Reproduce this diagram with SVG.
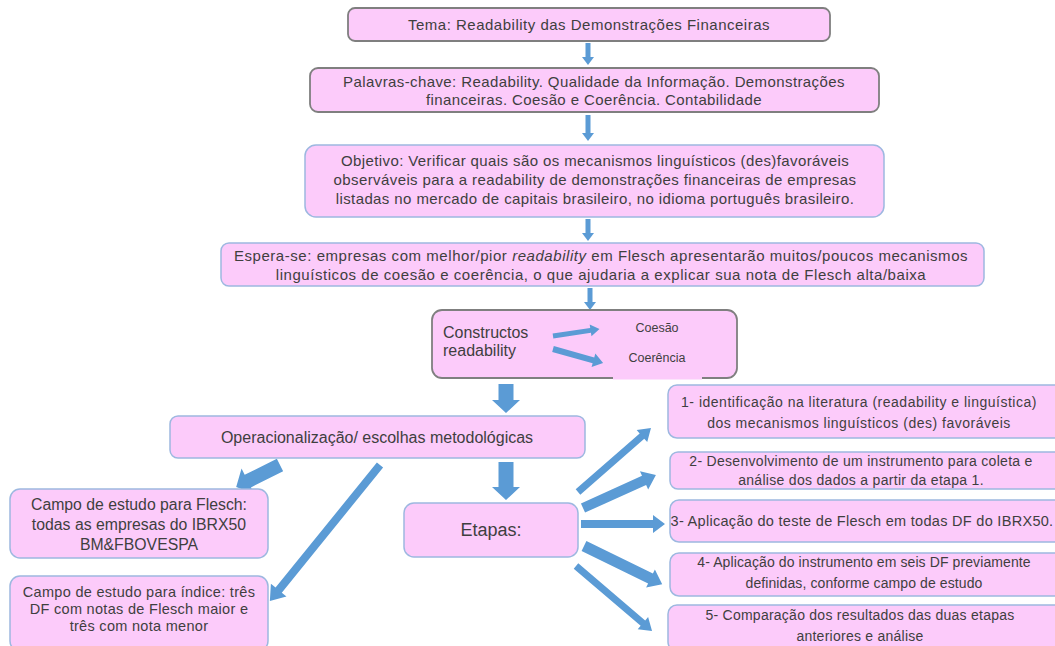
<svg xmlns="http://www.w3.org/2000/svg" width="1055" height="646" viewBox="0 0 1055 646">
<style>
.box{fill:#FCCBFA;stroke:#9DB8E0;stroke-width:1.5}
.gbox{fill:#FCCBFA;stroke:#7F7F7F;stroke-width:1.8}
.t{font-family:"Liberation Sans",Arial,sans-serif;fill:#3F3F3F;text-anchor:middle}
.arr{fill:#5B9BD5}
</style>
<rect width="1055" height="646" fill="#FFFFFF"/>
<g id="connectors">
<polygon class="arr" transform="translate(588,43) rotate(90)" points="0,-2.5 14,-2.5 14,-6 22,0 14,6 14,2.5 0,2.5"/>
<polygon class="arr" transform="translate(588,115) rotate(90)" points="0,-2.5 18,-2.5 18,-6 26,0 18,6 18,2.5 0,2.5"/>
<polygon class="arr" transform="translate(588,219) rotate(90)" points="0,-2.5 14,-2.5 14,-6 22,0 14,6 14,2.5 0,2.5"/>
<polygon class="arr" transform="translate(590,288) rotate(90)" points="0,-2.5 14,-2.5 14,-6 22,0 14,6 14,2.5 0,2.5"/>
<polygon class="arr" transform="translate(506,384) rotate(90)" points="0,-7.5 16,-7.5 16,-14 29,0 16,14 16,7.5 0,7.5"/>
<polygon class="arr" transform="translate(506,462) rotate(90)" points="0,-7.5 25,-7.5 25,-14 38,0 25,14 25,7.5 0,7.5"/>
<polygon class="arr" transform="translate(280,465) rotate(153.4)" points="0,-7 36,-7 36,-14 49,0 36,14 36,7 0,7"/>
<polygon class="arr" transform="translate(380,465) rotate(129)" points="0,-4 161,-4 161,-10 175,0 161,10 161,4 0,4"/>
<polygon class="arr" transform="translate(578,492) rotate(-41.2)" points="0,-3.5 85,-3.5 85,-8 97,0 85,8 85,3.5 0,3.5"/>
<polygon class="arr" transform="translate(583,508) rotate(-24.3)" points="0,-5 67,-5 67,-10 80,0 67,10 67,5 0,5"/>
<polygon class="arr" transform="translate(581,524)" points="0,-4 72,-4 72,-9 84,0 72,9 72,4 0,4"/>
<polygon class="arr" transform="translate(584,546) rotate(26)" points="0,-5.5 74,-5.5 74,-10 87,0 74,10 74,5.5 0,5.5"/>
<polygon class="arr" transform="translate(576,566) rotate(40.5)" points="0,-3.5 88,-3.5 88,-8 100,0 88,8 88,3.5 0,3.5"/>
</g>
<g id="tema">
<rect class="gbox" x="348" y="8" width="482" height="33" rx="7"/>
<text class="t" x="589" y="30" font-size="15" letter-spacing="0.5">Tema: Readability das Demonstrações Financeiras</text>
</g>
<g id="palavras">
<rect class="gbox" x="310" y="68" width="569" height="44" rx="8"/>
<text class="t" x="594" y="87" font-size="15" letter-spacing="0.4">Palavras-chave: Readability. Qualidade da Informação. Demonstrações</text>
<text class="t" x="594" y="105" font-size="15" letter-spacing="0.4">financeiras. Coesão e Coerência. Contabilidade</text>
</g>
<g id="objetivo">
<rect class="box" x="305" y="145" width="579" height="72" rx="11"/>
<text class="t" x="595" y="166" font-size="15" letter-spacing="0.4">Objetivo: Verificar quais são os mecanismos linguísticos (des)favoráveis</text>
<text class="t" x="595" y="185" font-size="15" letter-spacing="0.4">observáveis para a readability de demonstrações financeiras de empresas</text>
<text class="t" x="595" y="204" font-size="15" letter-spacing="0.4">listadas no mercado de capitais brasileiro, no idioma português brasileiro.</text>
</g>
<g id="espera">
<rect class="box" x="221" y="243" width="763" height="43" rx="8"/>
<text class="t" x="601" y="261" font-size="15" letter-spacing="0.55">Espera-se: empresas com melhor/pior <tspan font-style="italic">readability</tspan> em Flesch apresentarão muitos/poucos mecanismos</text>
<text class="t" x="601" y="280" font-size="15" letter-spacing="0.55">linguísticos de coesão e coerência, o que ajudaria a explicar sua nota de Flesch alta/baixa</text>
</g>
<g id="constructos">
<rect class="gbox" x="432" y="310" width="305" height="68" rx="10"/>
<rect x="613" y="350" width="89" height="29.5" fill="#FCCBFA"/>
<text class="t" x="443" y="338" font-size="16" style="text-anchor:start">Constructos</text>
<text class="t" x="443" y="356" font-size="16" style="text-anchor:start">readability</text>
<text class="t" x="657" y="332" font-size="12.5">Coesão</text>
<text class="t" x="657" y="362" font-size="12.5">Coerência</text>
<polygon class="arr" transform="translate(553,336) rotate(-8.5)" points="0,-2.5 38,-2.5 38,-6 47,0 38,6 38,2.5 0,2.5"/>
<polygon class="arr" transform="translate(553,349) rotate(15.6)" points="0,-3 42,-3 42,-7 52,0 42,7 42,3 0,3"/>
</g>
<g id="operacionalizacao">
<rect class="box" x="170" y="416" width="415" height="42" rx="8"/>
<text class="t" x="377" y="443" font-size="16">Operacionalização/ escolhas metodológicas</text>
</g>
<g id="campo-flesch">
<rect class="box" x="10" y="489" width="258" height="69" rx="10"/>
<text class="t" x="139" y="510" font-size="15.8">Campo de estudo para Flesch:</text>
<text class="t" x="139" y="530" font-size="15.8">todas as empresas do IBRX50</text>
<text class="t" x="139" y="550" font-size="15.8">BM&amp;FBOVESPA</text>
</g>
<g id="campo-indice">
<rect class="box" x="10" y="576" width="258" height="75" rx="10"/>
<text class="t" x="139" y="597" font-size="14.5" letter-spacing="0.3">Campo de estudo para índice: três</text>
<text class="t" x="139" y="614" font-size="14.5" letter-spacing="0.3">DF com notas de Flesch maior e</text>
<text class="t" x="139" y="631" font-size="14.5" letter-spacing="0.3">três com nota menor</text>
</g>
<g id="etapas">
<rect class="box" x="404" y="503" width="174" height="54" rx="10"/>
<text class="t" x="491" y="536" font-size="18">Etapas:</text>
</g>
<g id="etapa1">
<rect class="box" x="668" y="385" width="395" height="53" rx="9"/>
<text class="t" x="859" y="407" font-size="14" letter-spacing="0.5">1- identificação na literatura (readability e linguística)</text>
<text class="t" x="859" y="428" font-size="14" letter-spacing="0.5">dos mecanismos linguísticos (des) favoráveis</text>
</g>
<g id="etapa2">
<rect class="box" x="670" y="452" width="393" height="37" rx="8"/>
<text class="t" x="861" y="466" font-size="14" letter-spacing="0.3">2- Desenvolvimento de um instrumento para coleta e</text>
<text class="t" x="861" y="485" font-size="14" letter-spacing="0.3">análise dos dados a partir da etapa 1.</text>
</g>
<g id="etapa3">
<rect class="box" x="670" y="500" width="393" height="42" rx="9"/>
<text class="t" x="862" y="526" font-size="14.5" letter-spacing="0.3">3- Aplicação do teste de Flesch em todas DF do IBRX50.</text>
</g>
<g id="etapa4">
<rect class="box" x="670" y="553" width="393" height="43" rx="9"/>
<text class="t" x="864" y="567" font-size="14" letter-spacing="0.1">4- Aplicação do instrumento em seis DF previamente</text>
<text class="t" x="864" y="588" font-size="14" letter-spacing="0.1">definidas, conforme campo de estudo</text>
</g>
<g id="etapa5">
<rect class="box" x="668" y="605" width="395" height="46" rx="9"/>
<text class="t" x="860" y="620" font-size="14" letter-spacing="0.25">5- Comparação dos resultados das duas etapas</text>
<text class="t" x="860" y="641" font-size="14" letter-spacing="0.25">anteriores e análise</text>
</g>
</svg>
